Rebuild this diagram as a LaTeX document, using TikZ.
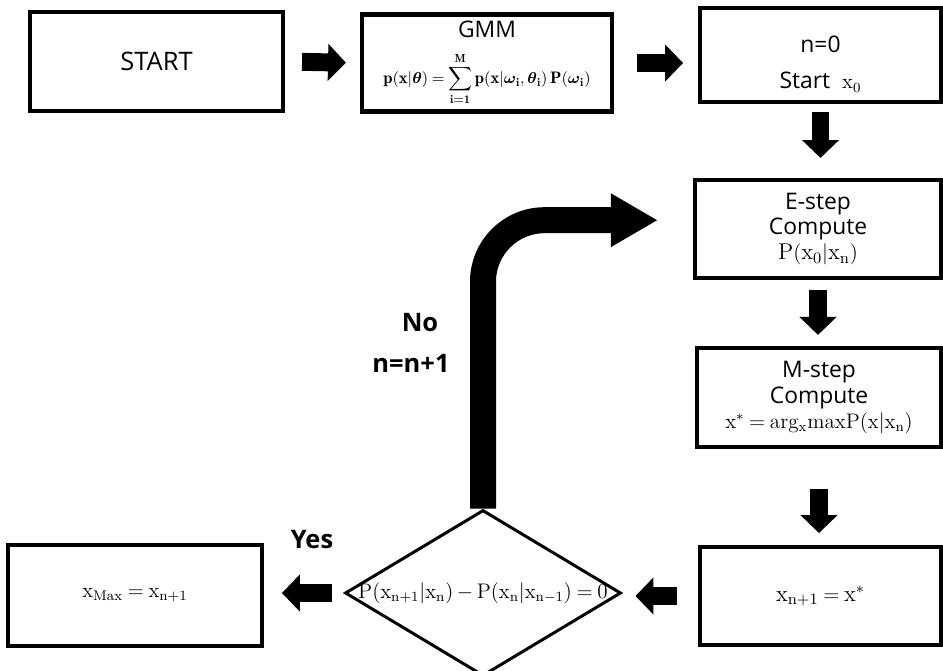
\documentclass[tikz,border=0pt]{standalone}
\usepackage{amsmath,amssymb}
\usepackage{fontspec}
\newfontfamily\flowsans{Open Sans}
\usepackage{tikz}
\usetikzlibrary{arrows.meta,positioning,shapes.geometric}
\thickmuskip=4mu plus 2mu
\medmuskip=3mu plus 1mu minus 1mu
\tikzset{
  block/.style    = {draw, line width=2.3pt, rectangle, align=center,
                     inner sep=2pt, font=\flowsans\fontsize{13}{14.5}\selectfont},
  decision/.style = {draw, line width=1.7pt, diamond, inner sep=0pt,
                     font=\fontsize{12}{15}\selectfont},
  fat/.style      = {line width=10.2pt, -{Triangle[length=10.2pt,width=20.5pt]}},
  loopback/.style = {line width=14.8pt, rounded corners=35pt,
                     -{Triangle[length=26.7pt,width=28.5pt]}},
  tag/.style      = {font=\flowsans\bfseries\fontsize{14.5}{17}\selectfont},
}

\begin{document}
\begin{tikzpicture}[x=0.02cm, y=-0.02cm]
\useasboundingbox (0,0) rectangle (943,671);
% ---- top row ----
\node[block, minimum width=5.06cm, minimum height=1.98cm,
      font=\flowsans\fontsize{14.5}{16}\selectfont] (start) at (156.5,61.5) {START};
\node[block, minimum width=5.0cm, minimum height=1.94cm] (gmm) at (487,63)
  {GMM\\[8pt]
   {\fontsize{9.5}{11}\selectfont
    $\mathbf{p(x|\boldsymbol{\theta})} = \displaystyle\sum_{\mathbf{i=1}}^{\mathbf{M}}
     \mathbf{p(x|\boldsymbol{\omega}_i,\boldsymbol{\theta}_i)\,P(\boldsymbol{\omega}_i)}$}};
\node[block, minimum width=4.82cm, minimum height=1.88cm] (n0) at (820.5,55)
  {\rule{0pt}{20pt}n=0\\[6pt] Start\ \ {\fontsize{12}{14}\selectfont$\mathrm{x_0}$}};
% ---- EM steps ----
\node[block, minimum width=4.92cm, minimum height=1.96cm] (estep) at (818,229)
  {E-step\\ Compute\\ {\fontsize{13}{14}\selectfont$\mathrm{P(x_0|x_n)}$}};
\node[block, minimum width=4.88cm, minimum height=1.98cm] (mstep) at (819,397.5)
  {M-step\\ Compute\\ {\fontsize{12}{14}\selectfont$\mathrm{x^*} = \mathrm{arg_x maxP(x|x_n)}$}};
\node[block, minimum width=4.82cm, minimum height=1.96cm] (xn1) at (820.5,596)
  {\fontsize{13}{15}\selectfont$\mathrm{x_{n+1}} = \mathrm{x^*}$};
% ---- check and result ----
\node[decision, minimum width=5.52cm, minimum height=3.32cm] (dec) at (483,593)
  {\makebox[0pt]{$\mathrm{P(x_{n+1}|x_n)} - \mathrm{P(x_n|x_{n-1})} = 0$}};
\node[block, minimum width=5.08cm, minimum height=2.02cm] (xmax) at (135,595.5)
  {\fontsize{12}{14}\selectfont$\mathrm{x_{Max}} = \mathrm{x_{n+1}}$};
\node[tag] (yes) at (312,540) {Yes};
\node[tag] (no) at (420,323) {No};
\node[tag] (incr) at (411,363) {n=n+1};
% ---- arrows ----
\draw[fat, shorten <=9.7pt, shorten >=8pt] (start.east) -- (gmm.west);
\draw[fat, shorten <=13pt, shorten >=8.5pt] (gmm.east) -- (gmm.east -| n0.west);
\draw[fat, shorten <=4.5pt, shorten >=11.4pt] (n0.south) -- (n0.south |- estep.north);
\draw[fat, shorten <=5.7pt, shorten >=6.3pt] (estep.south) -- (estep.south |- mstep.north);
\draw[fat, shorten <=22.8pt, shorten >=6.8pt] (mstep.south) -- (mstep.south |- xn1.north);
\draw[fat, shorten <=12pt, shorten >=7.4pt] (xn1.west) -- (xn1.west -| dec.east);
\draw[fat, shorten <=6.8pt, shorten >=10.2pt] (dec.west) -- (dec.west -| xmax.east);
\draw[loopback, shorten >=20pt] (dec.north) |- ([yshift=5pt]estep.west);
\end{tikzpicture}
\end{document}
